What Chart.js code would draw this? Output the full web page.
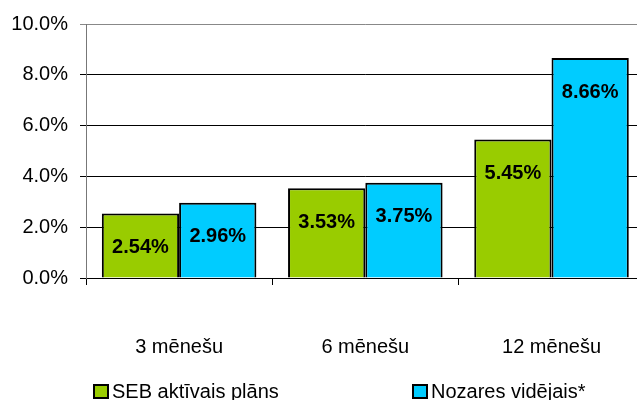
<!DOCTYPE html>
<html>
<head>
<meta charset="utf-8">
<script src="https://cdn.jsdelivr.net/npm/chart.js@4/dist/chart.umd.min.js"></script>
<style>
  html, body { margin: 0; padding: 0; background: #fff; }
  #wrap { width: 637px; height: 400px; overflow: hidden; position: relative; }
</style>
</head>
<body>
<div id="wrap"><canvas id="chart" width="651" height="400"></canvas></div>
<script>
const periods = ["3 mēnešu", "6 mēnešu", "12 mēnešu"];
const sebLabel = "SEB aktīvais plāns";
const sebValues = [2.54, 3.53, 5.45];
const avgLabel = "Nozares vidējais*";
const avgValues = [2.96, 3.75, 8.66];
const yTicks = [0, 2, 4, 6, 8, 10];

const FONT = "'Liberation Sans', Arial, sans-serif";

// value labels inside the bars
const valueLabels = {
    id: "valueLabels",
    afterDatasetsDraw(chart) {
        const ctx = chart.ctx;
        ctx.save();
        ctx.font = "bold 20px " + FONT;
        ctx.fillStyle = "#000";
        ctx.textAlign = "center";
        ctx.textBaseline = "middle";
        chart.data.datasets.forEach((ds, i) => {
            chart.getDatasetMeta(i).data.forEach((bar, j) => {
                ctx.fillText(ds.data[j].toFixed(2) + "%", bar.x, bar.y + 34);
            });
        });
        ctx.restore();
    },
};

// legend spread out like the original
const spreadLegend = {
    id: "spreadLegend",
    afterDraw(chart) {
        const ctx = chart.ctx;
        const starts = [94, 413];
        ctx.save();
        ctx.font = "20px " + FONT;
        ctx.textBaseline = "middle";
        chart.data.datasets.forEach((ds, i) => {
            const x = starts[i];
            ctx.fillStyle = ds.backgroundColor;
            ctx.strokeStyle = "#000";
            ctx.lineWidth = 2;
            ctx.fillRect(x, 385, 14, 13);
            ctx.strokeRect(x, 385, 14, 13);
            ctx.fillStyle = "#000";
            ctx.fillText(ds.label, x + 18, 392);
        });
        ctx.restore();
    },
};

new Chart(document.getElementById("chart"), {
    type: "bar",
    data: {
        labels: periods,
        datasets: [
            {
                label: sebLabel,
                data: sebValues,
                backgroundColor: "#99CC00",
                borderColor: "#000",
                borderWidth: 2,
                categoryPercentage: 0.83,
                barPercentage: 1,
            },
            {
                label: avgLabel,
                data: avgValues,
                backgroundColor: "#00CCFF",
                borderColor: "#000",
                borderWidth: 2,
                categoryPercentage: 0.83,
                barPercentage: 1,
            },
        ],
    },
    options: {
        responsive: false,
        animation: false,
        layout: { padding: { top: 14, left: 0, right: 0, bottom: 0 } },
        plugins: {
            legend: { display: false },
            tooltip: { enabled: false },
        },
        scales: {
            x: {
                afterFit: (scale) => { scale.height = 122; },
                grid: {
                    drawOnChartArea: false,
                    drawTicks: true,
                    tickLength: 7,
                    color: "#000",
                },
                border: { color: "#000", width: 1 },
                ticks: {
                    color: "#000",
                    font: { family: FONT, size: 20 },
                    padding: 50,
                },
            },
            y: {
                min: 0,
                max: 10,
                afterFit: (scale) => { scale.width = 86; },
                afterBuildTicks: (scale) => {
                    scale.ticks = yTicks.map((v) => ({ value: v }));
                },
                grid: {
                    color: (c) => (c.tick && c.tick.value === 10 ? "#888" : "#000"),
                    tickLength: 6,
                },
                border: { color: "#777", width: 1 },
                ticks: {
                    color: "#000",
                    font: { family: FONT, size: 20 },
                    padding: 12,
                    callback: (v) => v.toFixed(1) + "%",
                },
            },
        },
    },
    plugins: [valueLabels, spreadLegend],
});
</script>
</body>
</html>
